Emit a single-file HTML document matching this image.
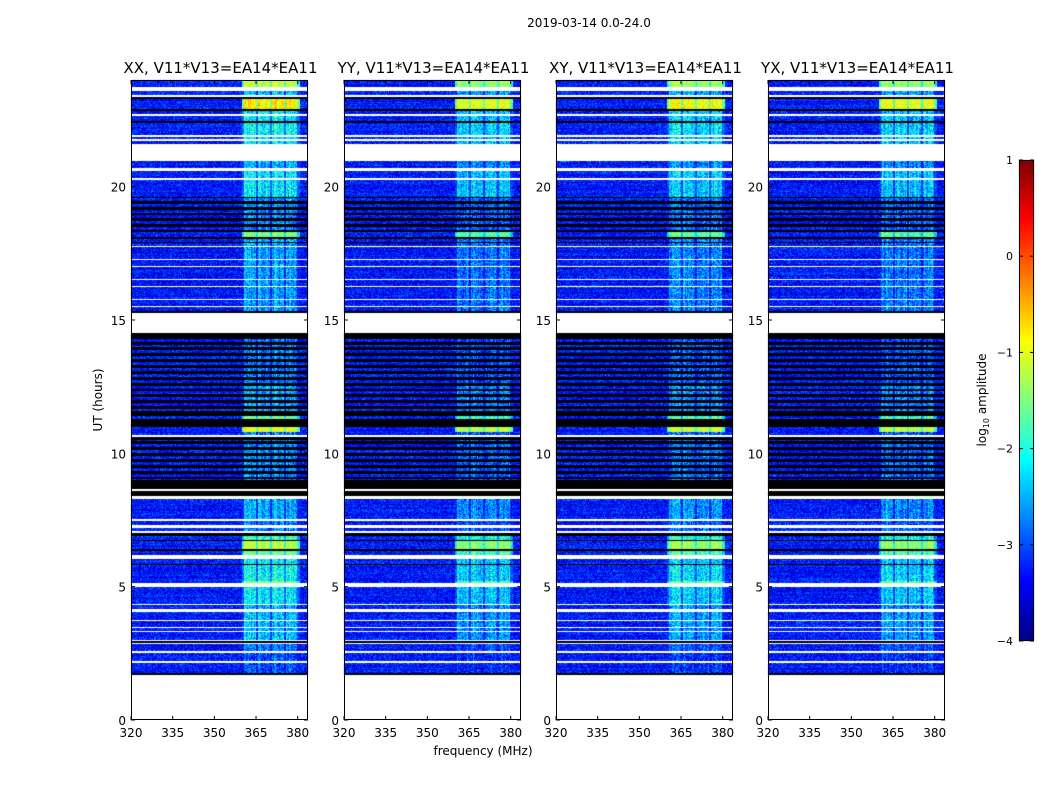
<!DOCTYPE html>
<html><head><meta charset="utf-8">
<style>
body{margin:0;background:#fff;width:1050px;height:800px;overflow:hidden;font-family:"Liberation Sans",sans-serif;}
#wrap{position:relative;width:1050px;height:800px;}
canvas{position:absolute;left:0;top:0;}
svg{position:absolute;left:0;top:0;}
</style></head>
<body>
<div id="wrap">
<canvas id="cv" width="1050" height="800"></canvas>
<svg id="sv" width="1050" height="800" font-family="DejaVu Sans, Liberation Sans, sans-serif"></svg>
</div>
<script>
// ---- data ----
const panelTitles = ["XX, V11*V13=EA14*EA11","YY, V11*V13=EA14*EA11","XY, V11*V13=EA14*EA11","YX, V11*V13=EA14*EA11"];
const panelBandOffset = [0, -0.15, -0.1, -0.2];
const xTicks = [320,335,350,365,380];
const yTicks = [0,5,10,15,20];
const cbTicks = [1,0,-1,-2,-3,-4];
// time segments: start hour, end hour, kind (w=no data,k=zero,b=data,a=alternating,s=data with gaps), band level (log10)
const segStart = [0,1.69,1.75,2.15,2.22,2.5,2.6,2.85,2.9,2.95,3.0,3.3,3.35,3.45,3.5,3.7,3.76,4.05,4.15,4.3,4.35,5.0,5.15,5.2,5.8,5.85,6.05,6.2,6.35,6.4,6.7,6.75,6.9,7.0,7.1,7.2,7.3,7.45,7.55,8.3,8.4,8.6,8.65,9.0,10.5,10.6,10.7,10.8,11.0,11.3,11.4,11.6,12.6,14.4,14.5,15.25,15.35,17.9,18.1,18.3,19.6,20.25,20.32,20.6,20.7,20.95,21.6,21.7,21.78,21.85,21.92,22.4,22.45,22.65,22.72,22.85,22.9,23.3,23.35,23.45,23.6,23.75];
const segEnd   = [1.69,1.75,2.15,2.22,2.5,2.6,2.85,2.9,2.95,3.0,3.3,3.35,3.45,3.5,3.7,3.76,4.05,4.15,4.3,4.35,5.0,5.15,5.2,5.8,5.85,6.05,6.2,6.35,6.4,6.7,6.75,6.9,7.0,7.1,7.2,7.3,7.45,7.55,8.3,8.4,8.6,8.65,9.0,10.5,10.6,10.7,10.8,11.0,11.3,11.4,11.6,12.6,14.4,14.5,15.25,15.35,17.9,18.1,18.3,19.6,20.25,20.32,20.6,20.7,20.95,21.6,21.7,21.78,21.85,21.92,22.4,22.45,22.65,22.72,22.85,22.9,23.3,23.35,23.45,23.6,23.75,24];
const segKind  = ["w","k","b","w","b","w","b","w","k","w","b","w","b","w","b","w","b","w","b","w","b","w","b","b","k","b","w","b","k","b","k","b","k","w","b","w","b","w","b","w","k","w","k","a","k","w","b","b","k","b","k","a","a","k","w","k","s","a","b","a","b","w","b","w","b","w","b","w","b","w","b","k","b","w","b","k","b","k","w","b","w","b"];
const segBand  = [0,0,-3.0,0,-3.0,0,-2.8,0,0,0,-2.4,0,-2.5,0,-2.4,0,-2.4,0,-2.5,0,-2.2,0,-1.5,-2.1,0,-2.2,0,-1.6,0,-1.2,0,-1.8,0,0,-2.7,0,-2.8,0,-2.5,0,0,0,0,-2.7,0,0,-2.8,-1.0,0,-1.6,0,-2.5,-2.8,0,0,0,-2.6,-2.5,-1.5,-2.7,-2.2,0,-2.2,0,-2.5,0,-2.2,0,-2.2,0,-2.1,0,-2.2,0,-2.2,0,-0.8,0,0,-2.4,0,-1.2];
const bandLo = [360.5,365.8,370.8,375.8];
const bandHi = [365.0,370.0,375.0,379.9];

// ---- geometry ----
const panelX0 = [131,344,556,768], panelW = 177;
const PY0 = 80, PY1 = 720;
const fMin = 320, fMax = 383.7, hMax = 24;
const CB = {x:1019,y0:160,y1:641,w:15};
function xScale(p,f){return panelX0[p] + (f-fMin)/(fMax-fMin)*panelW;}
function yScale(h){return PY1 - h/hMax*(PY1-PY0);}
function cbY(v){return CB.y0 + (1-v)/5*(CB.y1-CB.y0);}

function jet(t){t=Math.max(0,Math.min(1,t));
  const r=Math.min(4*t-1.5,-4*t+4.5),g=Math.min(4*t-0.5,-4*t+3.5),b=Math.min(4*t+0.5,-4*t+2.5);
  const c=x=>Math.round(255*Math.max(0,Math.min(1,x)));return [c(r),c(g),c(b)];}
function hash(a,b){let n=(a*374761393+b*668265263)|0;n=(n^(n>>>13))*1274126177|0;return ((n^(n>>>16))>>>0)/4294967296;}

const cv=document.getElementById('cv'),ctx=cv.getContext('2d');
const img=ctx.createImageData(1050,800);
function setPx(x,y,c){const i=(y*1050+x)*4;img.data[i]=c[0];img.data[i+1]=c[1];img.data[i+2]=c[2];img.data[i+3]=255;}
for(let p=0;p<4;p++){
  const x0=panelX0[p];
  for(let y=PY0;y<PY1;y++){
    const h=(PY1-y-0.5)/(PY1-PY0)*hMax;
    let s=0;for(let i=0;i<segStart.length;i++){if(h>=segStart[i]&&h<segEnd[i]){s=i;break;}}
    let kind=segKind[s];const bl=segBand[s]+panelBandOffset[p];
    if(kind==='a') kind=(Math.floor(h/0.11)%2===0)?'k':'b';
    if(kind==='s') kind=((h*4)%1<0.08)?'w':'b';
    const rowN=hash(y,p+7);
    for(let x=x0;x<x0+panelW;x++){
      let c;
      if(kind==='w') c=[255,255,255];
      else if(kind==='k') c=[0,0,0];
      else{
        const f=fMin+(x-x0+0.5)/panelW*(fMax-fMin);
        let inBand=false;for(let b=0;b<4;b++){if(f>=bandLo[b]&&f<bandHi[b])inBand=true;}
        const n=hash(x*3+p,y);
        const colN=hash(x,p+99);
        let v=-3.3+ (n-0.5)*0.9 + (rowN-0.5)*0.3;
        if(inBand){v=bl+(n-0.5)*(bl>-1.7?0.5:1.1)+(colN-0.5)*0.5;}
        else if(f>360&&f<381) v=Math.max(v,bl-0.7+(n-0.5)*0.7);
        c=jet((v+4)/5);
      }
      setPx(x,y,c);
    }
  }
}
// colorbar gradient
for(let y=CB.y0;y<CB.y1;y++){const v=1-(y-CB.y0+0.5)/(CB.y1-CB.y0)*5;const c=jet((v+4)/5);for(let x=CB.x;x<CB.x+CB.w;x++)setPx(x,y,c);}
ctx.putImageData(img,0,0);

// ---- axes svg ----
const NS="http://www.w3.org/2000/svg",sv=document.getElementById('sv');
function el(tag,attrs,txt){const e=document.createElementNS(NS,tag);for(const k in attrs)e.setAttribute(k,attrs[k]);if(txt!==undefined)e.textContent=txt;sv.appendChild(e);return e;}
let t=el('text',{x:589,y:27,'text-anchor':'middle','font-size':12},'2019-03-14 0.0-24.0');


for(let p=0;p<4;p++){
  const x0=panelX0[p];
  const fr=el('rect',{x:x0+0.5,y:PY0+0.5,width:panelW-1,height:PY1-PY0-1,fill:'none',stroke:'#000','stroke-width':1});
  
  
  const ti=el('text',{x:x0+panelW/2+1,y:73,'text-anchor':'middle','font-size':15},panelTitles[p]);
  
  
  xTicks.forEach(v=>{const x=xScale(p,v);
    el('line',{x1:x,x2:x,y1:PY1,y2:PY1-4,stroke:'#000'});el('line',{x1:x,x2:x,y1:PY0,y2:PY0+4,stroke:'#000'});
    const l=el('text',{x:x,y:PY1+17,'text-anchor':'middle','font-size':12},String(v));
    
    });
  yTicks.forEach(v=>{const y=yScale(v);
    el('line',{x1:x0,x2:x0+4,y1:y,y2:y,stroke:'#000'});el('line',{x1:x0+panelW,x2:x0+panelW-4,y1:y,y2:y,stroke:'#000'});
    const l=el('text',{x:x0-5,y:y+5,'text-anchor':'end','font-size':12},String(v));
    
    });
}
t=el('text',{x:483,y:755,'text-anchor':'middle','font-size':12},'frequency (MHz)');


t=el('text',{x:102,y:400,'text-anchor':'middle','font-size':12,transform:'rotate(-90 102 400)'},'UT (hours)');


const cbr=el('rect',{x:CB.x+0.5,y:CB.y0+0.5,width:CB.w-1,height:CB.y1-CB.y0-1,fill:'none',stroke:'#000'});


cbTicks.forEach(v=>{const y=cbY(v);
  el('line',{x1:CB.x,x2:CB.x+4,y1:y,y2:y,stroke:'#000'});el('line',{x1:CB.x+CB.w,x2:CB.x+CB.w-4,y1:y,y2:y,stroke:'#000'});
  const l=el('text',{x:1013,y:y+4,'text-anchor':'end','font-size':11},v<0?'\u2212'+(-v):String(v));
  
  });
t=el('text',{x:986,y:400,'text-anchor':'middle','font-size':12,transform:'rotate(-90 986 400)'});


t.innerHTML='log<tspan font-size="8" dy="3">10</tspan><tspan dy="-3"> amplitude</tspan>';
</script>
</body></html>
